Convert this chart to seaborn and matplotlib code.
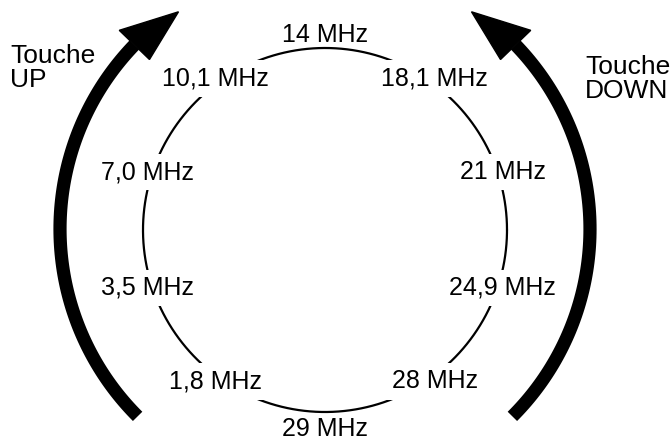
import numpy as np
import matplotlib
matplotlib.use("Agg")
import matplotlib.pyplot as plt
from matplotlib.patches import Polygon
import seaborn as sns

# Band labels, in the order the DOWN key steps through them (clockwise from bottom)
bands = ["1,8 MHz", "3,5 MHz", "7,0 MHz", "10,1 MHz", "14 MHz",
         "18,1 MHz", "21 MHz", "24,9 MHz", "28 MHz", "29 MHz"]
# Angle of each label on the dial (degrees, counter-clockwise from east)
band_angles = [234, 198, 162, 126, 90, 54, 18, -18, -54, -90]

# Key arrows: label, start angle, tip angle
key_labels = ["Touche\nUP", "Touche\nDOWN"]
arrow_start = [225, -45]
arrow_tip = [124, 56]

sns.set_style("white")
plt.rcParams["font.family"] = ["Liberation Sans", "DejaVu Sans"]
plt.rcParams["text.color"] = "black"

cx, cy, r = 325, 230, 182
r_arrow = 265
fs = 18

fig = plt.figure(figsize=(6.72, 4.41), dpi=100)
ax = fig.add_axes([0, 0, 1, 1])
ax.set_xlim(0, 672)
ax.set_ylim(441, 0)
ax.set_aspect("equal")
ax.axis("off")

# the dial circle
t = np.linspace(0, 2 * np.pi, 400)
ax.plot(cx + r * np.cos(t), cy - r * np.sin(t), color="black", linewidth=1.6)

# band labels
for lab, ang in zip(bands, band_angles):
    a = np.radians(ang)
    if ang == 90:
        ax.text(cx, cy - r - 1, lab, ha="center", va="bottom", fontsize=fs)
    elif ang == -90:
        ax.text(cx, cy + r + 5, lab, ha="center", va="top", fontsize=fs)
    else:
        ax.text(cx + (r + 5) * np.cos(a), cy - (r + 5) * np.sin(a), lab,
                ha="center", va="center", fontsize=fs,
                bbox=dict(facecolor="white", edgecolor="none", pad=4.5))

# thick curved arrows
for start, tip in zip(arrow_start, arrow_tip):
    sign = 1 if tip > start else -1
    base = tip - sign * 12
    ang = np.radians(np.linspace(start, base, 100))
    ax.plot(cx + r_arrow * np.cos(ang), cy - 1 - r_arrow * np.sin(ang),
            color="black", linewidth=9.5, solid_capstyle="butt")
    b = np.radians(base)
    tp = np.radians(tip)
    pts = [(cx + (r_arrow - 21) * np.cos(b), cy - 1 - (r_arrow - 21) * np.sin(b)),
           (cx + (r_arrow + 21) * np.cos(b), cy - 1 - (r_arrow + 21) * np.sin(b)),
           (cx + (r_arrow - 3) * np.cos(tp), cy - 1 - (r_arrow - 3) * np.sin(tp))]
    ax.add_patch(Polygon(pts, closed=True, color="black"))

ax.text(10, 68, key_labels[0], ha="left", va="center", fontsize=19,
        linespacing=1.0)
ax.text(585, 79, key_labels[1], ha="left", va="center", fontsize=19,
        linespacing=1.0)

fig.savefig("out.png", dpi=100)
